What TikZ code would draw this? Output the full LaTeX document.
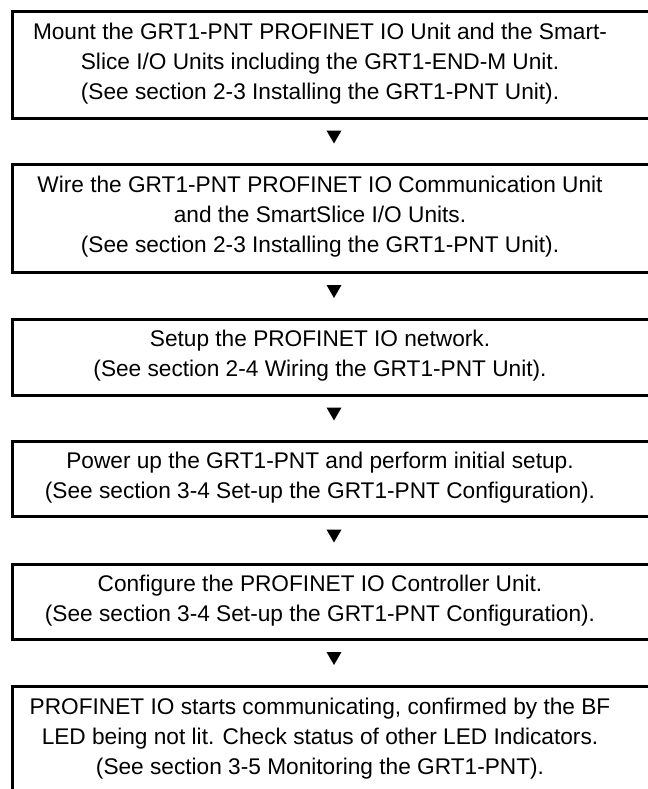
\documentclass[tikz,border=0pt]{standalone}
\usepackage{fontspec}
\setmainfont{Liberation Sans}
\usetikzlibrary{shapes.geometric}
\tikzset{
	stepbox/.style={draw, line width=2.25pt, anchor=north west, minimum width=644*0.75pt, inner sep=0pt},
	steptext/.style={align=center, inner sep=0pt, font=\fontsize{17pt}{22.5pt}\selectfont},
	steptri/.style={regular polygon, regular polygon sides=3, shape border rotate=180, fill, inner sep=0pt, minimum size=13pt, yshift=5pt}
}
\begin{document}
\begin{tikzpicture}[x=0.75pt, y=-0.75pt, line join=miter]
	\useasboundingbox (0,0) rectangle (648,789);
	\clip (0,0) rectangle (648,789);
	% boxes
	\node[stepbox, minimum height=107.5*0.75pt] (b1) at (10.5,9.5) {};
	\node[stepbox, minimum height=108*0.75pt] (b2) at (10.5,163) {};
	\node[stepbox, minimum height=76*0.75pt] (b3) at (10.5,318) {};
	\node[stepbox, minimum height=75*0.75pt] (b4) at (10.5,440) {};
	\node[stepbox, minimum height=75*0.75pt] (b5) at (10.5,563) {};
	\node[stepbox, minimum height=108*0.75pt] (b6) at (10.5,685) {};
	% texts
	\node[steptext] (t1) at (320,63.25) {Mount the GRT1-PNT PROFINET IO Unit and the Smart-\\Slice I/O Units including the GRT1-END-M Unit.\\(See section 2-3 Installing the GRT1-PNT Unit).};
	\node[steptext] (t2) at (320,217) {Wire the GRT1-PNT PROFINET IO Communication Unit\\and the SmartSlice I/O Units.\\(See section 2-3 Installing the GRT1-PNT Unit).};
	\node[steptext] (t3) at (320,356) {Setup the PROFINET IO network.\\(See section 2-4 Wiring the GRT1-PNT Unit).};
	\node[steptext] (t4) at (320,477.5) {Power up the GRT1-PNT and perform initial setup.\\(See section 3-4 Set-up the GRT1-PNT Configuration).};
	\node[steptext] (t5) at (320,600.5) {Configure the PROFINET IO Controller Unit.\\(See section 3-4 Set-up the GRT1-PNT Configuration).};
	\node[steptext] (t6) at (320,739) {PROFINET IO starts communicating, confirmed by the BF\\LED being not lit. Check status of other LED Indicators.\\(See section 3-5 Monitoring the GRT1-PNT).};
	% arrows
	\foreach \a/\b in {b1/b2, b2/b3, b3/b4, b4/b5, b5/b6}
		\path (\a.south) -- (\b.north) node[midway, steptri] {};
\end{tikzpicture}
\end{document}
